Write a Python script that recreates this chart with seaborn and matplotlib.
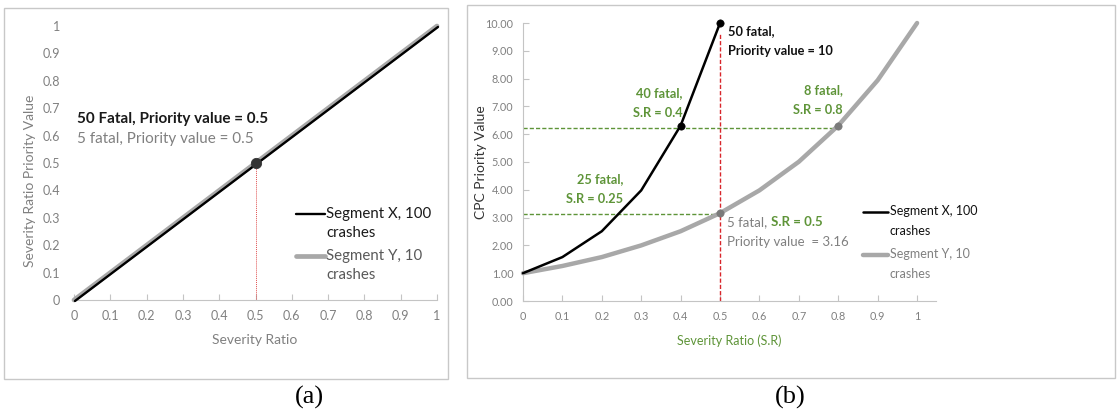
import matplotlib
matplotlib.use("Agg")
import matplotlib.pyplot as plt
import matplotlib.transforms as mtrans
from matplotlib.patches import Rectangle
from matplotlib.legend_handler import HandlerLine2D
import numpy as np
import seaborn as sns
import pandas as pd

# ---------------- data ----------------
# panel (a)
sr_a = [0.0, 1.0]
pv_a_x = [0.0, 1.0]
pv_a_y = [0.0, 1.0]
hl_a_x = [0.5]
hl_a_y = [0.5]
ticks_a_x = [0, 0.1, 0.2, 0.3, 0.4, 0.5, 0.6, 0.7, 0.8, 0.9, 1]
ticks_a_y = [0, 0.1, 0.2, 0.3, 0.4, 0.5, 0.6, 0.7, 0.8, 0.9, 1]

# panel (b)
sr_x = [0.0, 0.1, 0.2, 0.3, 0.4, 0.5]
cpc_x = [1.00, 1.58, 2.51, 3.98, 6.31, 10.00]
sr_y = [0.0, 0.1, 0.2, 0.3, 0.4, 0.5, 0.6, 0.7, 0.8, 0.9, 1.0]
cpc_y = [1.00, 1.26, 1.58, 2.00, 2.51, 3.16, 3.98, 5.01, 6.31, 7.94, 10.00]
hl_x_sr = [0.4, 0.5]
hl_x_cpc = [6.31, 10.00]
hl_y_sr = [0.5, 0.8]
hl_y_cpc = [3.16, 6.31]
guide_hi = 6.22
guide_lo = 3.14
ticks_b_x = [0, 0.1, 0.2, 0.3, 0.4, 0.5, 0.6, 0.7, 0.8, 0.9, 1]
ticks_b_y = [0, 1, 2, 3, 4, 5, 6, 7, 8, 9, 10]

lab_x = "Segment X, 100\ncrashes"
lab_y = "Segment Y, 10\ncrashes"

# ---------------- style ----------------
sns.set_style("white")
plt.rcParams["font.family"] = ["Lato", "DejaVu Sans"]

GREEN = "#5e9438"
GREYTXT = "#808080"
LINEGREY = "#a8a8a8"
SPINE = "#c4c4c4"

fig = plt.figure(figsize=(11.18, 4.18), dpi=100)
W, H = 1118, 418


def fx(px):
    return px / W


def fy(py):
    return 1 - py / H


class TopLineHandler(HandlerLine2D):
    """Place the legend line at the level of the first text line."""
    def __init__(self, shift, **kw):
        super().__init__(**kw)
        self.shift = shift

    def create_artists(self, legend, orig_handle, xdescent, ydescent, width,
                       height, fontsize, trans):
        arts = super().create_artists(legend, orig_handle, xdescent, ydescent,
                                      width, height, fontsize, trans)
        for a in arts:
            a.set_ydata(np.asarray(a.get_ydata(), dtype=float) + self.shift)
        return arts


# panel frames
fig.patches.append(Rectangle((fx(4), fy(379)), fx(448) - fx(4), fy(8) - fy(379),
                             transform=fig.transFigure, fill=False, ec="#c8c8c8", lw=1))
fig.patches.append(Rectangle((fx(467), fy(378)), fx(1115) - fx(467), fy(5) - fy(378),
                             transform=fig.transFigure, fill=False, ec="#c8c8c8", lw=1))

# ---------------- panel (a) ----------------
axa = fig.add_axes([fx(74), fy(300), fx(437) - fx(74), fy(26) - fy(300)])
df_ay = pd.DataFrame({"sr": sr_a, "pv": pv_a_y})
df_ax = pd.DataFrame({"sr": sr_a, "pv": pv_a_x})
sns.lineplot(data=df_ay, x="sr", y="pv", color=LINEGREY, lw=3.4,
             ax=axa, label=lab_y, zorder=2)
off = mtrans.offset_copy(axa.transData, fig=fig, x=0.7, y=-0.7, units="points")
sns.lineplot(data=df_ax, x="sr", y="pv", color="black", lw=1.7,
             ax=axa, label=lab_x, zorder=3, transform=off)
axa.plot([hl_a_x[0], hl_a_x[0]], [0, hl_a_y[0]], color="#e05050", lw=0.7,
         ls=(0, (1, 1)), zorder=1)
sns.scatterplot(x=hl_a_x, y=hl_a_y, color="#333333", s=55, ax=axa, zorder=4,
                edgecolor="#333333", legend=False)
for ln in axa.get_lines():
    ln.set_clip_on(False)
axa.set_xlim(0, 1)
axa.set_ylim(0, 1)
axa.set_xticks(ticks_a_x)
axa.set_xticklabels([f"{t:g}" for t in ticks_a_x])
axa.set_yticks(ticks_a_y)
axa.set_yticklabels([f"{t:g}" for t in ticks_a_y])
for s in ["top", "right", "left"]:
    axa.spines[s].set_visible(False)
axa.spines["bottom"].set_color(SPINE)
axa.tick_params(axis="x", direction="in", length=4, color=SPINE, labelsize=9,
                labelcolor=GREYTXT, pad=7, bottom=True)
axa.tick_params(axis="y", length=0, labelsize=9, labelcolor=GREYTXT, pad=10)
axa.set_xlabel("Severity Ratio", fontsize=10, color=GREYTXT)
axa.set_ylabel("Severity Ratio Priority Value", fontsize=10, color=GREYTXT)
axa.xaxis.set_label_coords(0.497, -0.125)
axa.yaxis.set_label_coords(-0.105, 0.434)
axa.text(0.008, 0.66, "50 Fatal, Priority value = 0.5", fontsize=11,
         fontweight="bold", color="#1a1a1a", va="center", ha="left")
axa.text(0.008, 0.588, "5 fatal, Priority value = 0.5", fontsize=11,
         color=GREYTXT, va="center", ha="left")

LEGFS_A = 10.8
h, l = axa.get_legend_handles_labels()
order = [l.index(lab_x), l.index(lab_y)]
lga = axa.legend([h[i] for i in order], [l[i] for i in order],
                 loc="upper left", bbox_to_anchor=(0.59, 0.365), frameon=False,
                 fontsize=LEGFS_A, handlelength=1.95, handletextpad=0.1, borderpad=0,
                 labelspacing=0.6,
                 handler_map={h[i]: TopLineHandler(LEGFS_A * 0.68) for i in order})
for t in lga.get_texts():
    t.set_linespacing(1.45)
lga.get_texts()[0].set_color("#1a1a1a")
lga.get_texts()[1].set_color("#595959")

# ---------------- panel (b) ----------------
axb = fig.add_axes([fx(523), fy(301), fx(936) - fx(523), fy(23) - fy(301)])
df_x = pd.DataFrame({"sr": sr_x, "cpc": cpc_x})
df_y = pd.DataFrame({"sr": sr_y, "cpc": cpc_y})
sns.lineplot(data=df_y, x="sr", y="cpc", color=LINEGREY, lw=3.2, ax=axb,
             label=lab_y, zorder=2)
sns.lineplot(data=df_x, x="sr", y="cpc", color="black", lw=1.8, ax=axb,
             label=lab_x, zorder=3)
# guides
axb.plot([0, hl_y_sr[1]], [guide_hi, guide_hi], color=GREEN, lw=1, ls=(0, (3, 1.5)), zorder=1)
axb.plot([0, hl_y_sr[0]], [guide_lo, guide_lo], color=GREEN, lw=1, ls=(0, (3, 1.5)), zorder=1)
axb.plot([0.5, 0.5], [0, 9.65], color="#d8262b", lw=1, ls=(0, (3, 1.5)), zorder=1)
sns.scatterplot(x=hl_x_sr, y=hl_x_cpc, color="black", s=28, ax=axb, zorder=4,
                edgecolor="black", legend=False, clip_on=False)
sns.scatterplot(x=hl_y_sr, y=hl_y_cpc, color="#7a7a7a", s=28, ax=axb, zorder=4,
                edgecolor="#7a7a7a", legend=False, clip_on=False)
for ln in axb.get_lines():
    ln.set_clip_on(False)
axb.set_xlim(0, 1.048)
axb.set_ylim(0, 10)
axb.set_xticks(ticks_b_x)
axb.set_xticklabels([f"{t:g}" for t in ticks_b_x])
axb.set_yticks(ticks_b_y)
axb.set_yticklabels([f"{t:.2f}" for t in ticks_b_y])
for s in ["top", "right"]:
    axb.spines[s].set_visible(False)
axb.spines["bottom"].set_color(SPINE)
axb.spines["left"].set_color(SPINE)
axb.tick_params(axis="x", direction="in", length=4, color=SPINE, labelsize=7.8,
                labelcolor=GREYTXT, pad=7, bottom=True)
axb.tick_params(axis="y", direction="in", length=4, color=SPINE, labelsize=7.8,
                labelcolor=GREYTXT, pad=7, left=True)
axb.set_xlabel("Severity Ratio (S.R)", fontsize=9, color=GREEN)
axb.set_ylabel("CPC Priority Value", fontsize=10, color="#333333")
axb.xaxis.set_label_coords(0.5, -0.12)
axb.yaxis.set_label_coords(-0.087, 0.498)

ANN = 9.2
axb.text(0.52, 9.35, "50 fatal,\nPriority value = 10", fontsize=ANN, fontweight="bold",
         color="#111111", va="center", ha="left", linespacing=1.75)
axb.text(0.406, 7.13, "40 fatal,\nS.R = 0.4", fontsize=ANN, fontweight="bold",
         color=GREEN, va="center", ha="right", linespacing=1.75)
axb.text(0.812, 7.23, "8 fatal,\nS.R = 0.8", fontsize=ANN, fontweight="bold",
         color=GREEN, va="center", ha="right", linespacing=1.75)
axb.text(0.254, 4.03, "25 fatal,\nS.R = 0.25", fontsize=ANN, fontweight="bold",
         color=GREEN, va="center", ha="right", linespacing=1.75)
t1 = axb.text(0.518, 2.84, "5 fatal, ", fontsize=9.5, color=GREYTXT,
              va="center", ha="left")
axb.annotate("S.R = 0.5", xy=(1, 0.5), xycoords=t1, va="center", ha="left",
             fontsize=9.5, fontweight="bold", color=GREEN)
axb.text(0.518, 2.12, "Priority value  = 3.16", fontsize=9.5, color=GREYTXT,
         va="center", ha="left")

LEGFS_B = 9
h, l = axb.get_legend_handles_labels()
order = [l.index(lab_x), l.index(lab_y)]
lgb = axb.legend([h[i] for i in order], [l[i] for i in order],
                 loc="upper left", bbox_to_anchor=(0.809, 0.368), frameon=False,
                 fontsize=LEGFS_B, handlelength=2.0, handletextpad=0.1, borderpad=0,
                 labelspacing=0.9,
                 handler_map={h[i]: TopLineHandler(LEGFS_B * 0.8) for i in order})
for t in lgb.get_texts():
    t.set_linespacing(1.8)
lgb.get_texts()[0].set_color("#111111")
lgb.get_texts()[1].set_color(GREYTXT)

# panel labels
fig.text(fx(309), fy(397), "(a)", fontsize=19, family=["Liberation Serif", "DejaVu Serif"],
         ha="center", va="center", color="black")
fig.text(fx(790), fy(397), "(b)", fontsize=19, family=["Liberation Serif", "DejaVu Serif"],
         ha="center", va="center", color="black")

fig.savefig("out.png", dpi=100)
